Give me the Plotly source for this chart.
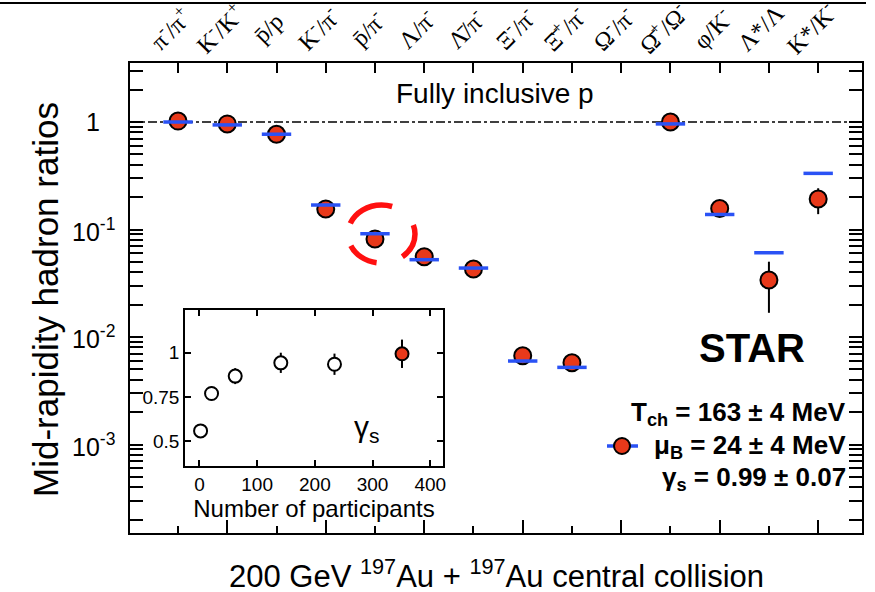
import math
import plotly.graph_objects as go

# ---------------- data ----------------
categories = ["π<sup>-</sup>/π<sup>+</sup>", "K<sup>-</sup>/K<sup>+</sup>", "p\u0304/p",
              "K<sup>-</sup>/π<sup>-</sup>", "p\u0304/π<sup>-</sup>", "Λ/π<sup>-</sup>",
              "Λ\u0304/π<sup>-</sup>", "Ξ<sup>-</sup>/π<sup>-</sup>", "Ξ\u0304<sup>+</sup>/π<sup>-</sup>",
              "Ω<sup>-</sup>/π<sup>-</sup>", "Ω\u0304<sup>+</sup>/Ω<sup>-</sup>", "φ/K<sup>-</sup>",
              "Λ*/Λ", "K*/K<sup>-</sup>"]
data_ratio = [1.02, 0.96, 0.77, 0.155, 0.0816, 0.0558, 0.0429, 0.0067, 0.00577,
              None, 1.0, 0.157, 0.0339, 0.192]
err_plus = [0, 0, 0, 0, 0, 0, 0, 0, 0, 0, 0, 0, 0.0163, 0.050]
err_minus = [0, 0, 0, 0, 0, 0, 0, 0, 0, 0, 0, 0, 0.0171, 0.053]
model_ratio = [1.0, 0.94, 0.77, 0.169, 0.0914, 0.0524, 0.0438, 0.00598, 0.00522,
               None, 0.96, 0.138, 0.0608, 0.333]

n_part = [2, 21, 62, 141, 234, 351]
gamma_s = [0.558, 0.769, 0.867, 0.942, 0.934, 0.993]
gamma_err = [0.02, 0.039, 0.045, 0.057, 0.06, 0.08]
gamma_fill = ["white", "white", "white", "white", "white", "#e8391a"]

y_tickvals = [0.001, 0.01, 0.1, 1]
y_ticktext = ["10<sup>-3</sup>", "10<sup>-2</sup>", "10<sup>-1</sup>", "1"]
inset_xticks = [0, 100, 200, 300, 400]
inset_yticks = [0.5, 0.75, 1]
inset_yticktext = ["0.5", "0.75", "1"]

RED = "#e8391a"
BLUE = "#2a52f5"
SANS = "Liberation Sans, Arial, sans-serif"
SERIF = "Liberation Serif, Times New Roman, serif"

idx = list(range(len(categories)))

fig = go.Figure()

# model (blue bars)
fig.add_trace(go.Scatter(
    x=idx, y=model_ratio, mode="markers", xaxis="x2", yaxis="y",
    marker=dict(symbol="line-ew", size=21, line=dict(width=3.5, color=BLUE)),
    showlegend=False, hoverinfo="skip"))

# data points
fig.add_trace(go.Scatter(
    x=idx, y=data_ratio, mode="markers", xaxis="x", yaxis="y",
    error_y=dict(type="data", array=err_plus, arrayminus=err_minus, symmetric=False,
                 color="black", thickness=2, width=0),
    marker=dict(size=17, color=RED, line=dict(width=2, color="black")),
    showlegend=False))

# inset
fig.add_trace(go.Scatter(
    x=n_part, y=gamma_s, mode="markers", xaxis="x3", yaxis="y3",
    error_y=dict(type="data", array=gamma_err, color="black", thickness=2, width=0),
    marker=dict(size=13, color=gamma_fill, line=dict(width=2, color="black")),
    showlegend=False))

W, H = 875, 592
L, R, T, B = 130, 862, 63, 533
def px(x):
    return (x - L) / (R - L)
def py(y):
    return (B - y) / (B - T)

xr = [-0.975, 13.89]

fig.update_layout(
    width=W, height=H,
    margin=dict(l=L, r=W - R, t=T, b=H - B),
    paper_bgcolor="white", plot_bgcolor="white",
    font=dict(family=SANS, color="black"),
    xaxis=dict(range=xr, showline=True, linewidth=2, linecolor="black", mirror=True,
               ticks="inside", ticklen=13, tickwidth=1.5, tickcolor="black",
               tickmode="linear", tick0=1, dtick=2, showticklabels=False,
               showgrid=False, zeroline=False, automargin=False,
               minor=dict(ticks="inside", ticklen=7, tickwidth=1.5, tickcolor="black",
                          tickmode="linear", tick0=0, dtick=1, showgrid=False)),
    xaxis2=dict(range=xr, overlaying="x", side="top", anchor="y",
                tickmode="array", tickvals=idx, showticklabels=False,
                ticks="inside", ticklen=10, tickwidth=1.5, tickcolor="black",
                showline=False, showgrid=False, zeroline=False, automargin=False),
    yaxis=dict(type="log", range=[-3.823, 0.549], showline=True, linewidth=2,
               linecolor="black", mirror="allticks",
               tickmode="array", tickvals=y_tickvals, showticklabels=False,
               ticks="inside", ticklen=13, tickwidth=1.5, tickcolor="black",
               showgrid=False, zeroline=False, automargin=False,
               minor=dict(ticks="inside", ticklen=7, tickwidth=1.5, tickcolor="black",
                          dtick="D1", showgrid=False)),
    xaxis3=dict(domain=[px(185), px(443)], anchor="y3", range=[-25, 422],
                tickmode="array", tickvals=inset_xticks,
                showline=True, linewidth=1.5, linecolor="black", mirror="allticks",
                ticks="inside", ticklen=6, tickwidth=1.5, tickcolor="black",
                showgrid=False, zeroline=False, tickfont=dict(size=19), automargin=False,
                title=dict(text="Number of participants", font=dict(size=24), standoff=2)),
    yaxis3=dict(domain=[py(466), py(310)], anchor="x3", range=[0.36, 1.24],
                tickmode="array", tickvals=inset_yticks, ticktext=inset_yticktext,
                showline=True, linewidth=1.5, linecolor="black", mirror="allticks",
                ticks="inside", ticklen=6, tickwidth=1.5, tickcolor="black",
                showgrid=False, zeroline=False, tickfont=dict(size=19), automargin=False),
)

shapes = [
    # y = 1 reference line
    dict(type="line", xref="x domain", yref="y", x0=0, x1=1, y0=1, y1=1,
         line=dict(color="black", width=1.5, dash="dashdot"), layer="below"),
    # inset gamma_s = 1 line
    dict(type="line", xref="x3 domain", yref="y3", x0=0, x1=1, y0=1, y1=1,
         line=dict(color=BLUE, width=2, dash="dash"), layer="below"),
    # red dashed ellipse around pbar/pi
    dict(type="circle", xref="paper", yref="paper",
         x0=px(348), x1=px(415), y0=py(263), y1=py(205),
         line=dict(color="#ff1010", width=5.5, dash="27px,27px,32px,23px,49px,29px,20px,40px")),
    # legend symbol
    dict(type="line", xref="paper", yref="paper", x0=px(607), x1=px(638),
         y0=py(446), y1=py(446), line=dict(color=BLUE, width=3.5)),
    dict(type="circle", xref="paper", yref="paper", x0=px(614), x1=px(630),
         y0=py(454), y1=py(438), fillcolor=RED, line=dict(color="black", width=2)),
    # top separator line of the figure
    dict(type="line", xref="paper", yref="paper", x0=px(0), x1=px(866),
         y0=py(3), y1=py(3), line=dict(color="black", width=2)),
]
fig.update_layout(shapes=shapes)

ann = [
    dict(text="Fully inclusive p", x=px(495), y=py(93), font=dict(size=28)),
    dict(text="<b>STAR</b>", x=px(752), y=py(348), font=dict(size=40)),
    dict(text="<b>T<sub>ch</sub> = 163 ± 4 MeV</b>", x=px(848), y=py(413),
         xanchor="right", font=dict(size=26)),
    dict(text="<b>μ<sub>B</sub> = 24 ± 4 MeV</b>", x=px(848), y=py(446),
         xanchor="right", font=dict(size=26)),
    dict(text="<b>γ<sub>s</sub> = 0.99 ± 0.07</b>", x=px(848), y=py(478),
         xanchor="right", font=dict(size=26)),
    dict(text="Mid-rapidity hadron ratios", x=px(45), y=py(300), textangle=-90,
         font=dict(size=35)),
    dict(text="200 GeV <sup>197</sup>Au + <sup>197</sup>Au central collision",
         x=px(497), y=py(574), font=dict(size=31)),
]
for a in ann:
    a.setdefault("xanchor", "center")
    fig.add_annotation(xref="paper", yref="paper", showarrow=False, yanchor="middle", **a)

# top category labels (rotated), placed on the category axis
for i, lab in enumerate(categories):
    fig.add_annotation(xref="x", yref="paper", x=i, y=py(28), xshift=-8, text=lab,
                       textangle=-45, showarrow=False, xanchor="center", yanchor="middle",
                       font=dict(family=SERIF, size=24, color="black"))

# y-axis decade labels (centred, as in the original)
for v, t in zip(y_tickvals, y_ticktext):
    fig.add_annotation(xref="paper", yref="y", x=px(93), y=math.log10(v), text=t,
                       showarrow=False, xanchor="center", yanchor="middle",
                       font=dict(size=25, color="black"))

fig.add_annotation(xref="x3", yref="y3", x=290, y=0.574, text="γ<sub>s</sub>",
                   showarrow=False, font=dict(size=30))

fig.write_html("out.html")
